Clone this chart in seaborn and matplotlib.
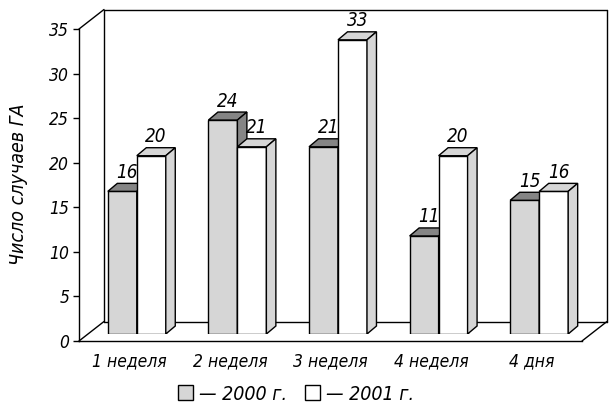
import matplotlib
matplotlib.use("Agg")
import matplotlib.pyplot as plt
from matplotlib.patches import Polygon, Patch
from matplotlib import font_manager
import seaborn as sns
import pandas as pd

# data
categories = ["1 неделя", "2 неделя", "3 неделя", "4 неделя", "4 дня"]
cases_2000 = [16, 24, 21, 11, 15]
cases_2001 = [20, 21, 33, 20, 16]
years = ["2000", "2001"]
legend_labels = ["— 2000 г.", "— 2001 г."]
y_ticks = [0, 5, 10, 15, 20, 25, 30, 35]

df = pd.DataFrame({
    "period": categories * 2,
    "cases": cases_2000 + cases_2001,
    "year": [years[0]] * 5 + [years[1]] * 5,
})

sns.set_theme(style="white")

# look for a narrow font, like the reference
fonts = font_manager.fontManager.ttflist
narrow = [f for f in fonts if "LiberationSansNarrow" in f.fname.replace("-", "").replace(" ", "")]
cond = [f for f in fonts if "DejaVuSansCondensed" in f.fname]
fam, stretch, fs = "DejaVu Sans", "normal", 11.5
if narrow:
    fam, stretch, fs = narrow[0].name, "normal", 13
elif cond:
    fam, stretch, fs = "DejaVu Sans", "condensed", 12.5
print("font:", fam, stretch)
plt.rcParams["font.family"] = [fam, "DejaVu Sans"]
plt.rcParams["font.stretch"] = stretch
plt.rcParams["font.style"] = "italic"
plt.rcParams["text.color"] = "black"
plt.rcParams["xtick.color"] = "black"
plt.rcParams["ytick.color"] = "black"

W, H = 609, 403
fig = plt.figure(figsize=(W / 100, H / 100), dpi=100)

# front axis: x 79..582 px, y 341..29 px
x0, x1, y0, y1 = 79, 582, 341, 29
xmin, xmax = -0.5, 4.5
ax = fig.add_axes([x0 / W, (H - y0) / H, (x1 - x0) / W, (y0 - y1) / H])
ax.set_xlim(xmin, xmax)
ax.set_ylim(0, 35)
ax.patch.set_alpha(0)

px_x = (x1 - x0) / (xmax - xmin)   # pixels per x unit
px_y = (y0 - y1) / 35.0            # pixels per y unit

# bars axes, shifted a bit into depth
sx, sy = 7.5, 7
axb = fig.add_axes([(x0 + sx) / W, (H - y0 + sy) / H, (x1 - x0) / W, (y0 - y1) / H])
axb.patch.set_alpha(0)

sns.barplot(data=df, x="period", y="cases", hue="year", ax=axb,
            palette={"2000": "#d6d6d6", "2001": "#ffffff"}, saturation=1,
            edgecolor="black", linewidth=1, width=0.576, legend=False)
axb.set_xlim(xmin, xmax)
axb.set_ylim(0, 35)
axb.axis("off")

ddx, ddy = 9.5 / px_x, 8 / px_y
tops = {"2000": "#858585", "2001": "#d6d6d6"}
sides = {"2000": "#858585", "2001": "#d6d6d6"}
for cont, yr in zip(axb.containers, years):
    z = 1 if yr == "2000" else 3
    for p in cont:
        p.set_zorder(z)
        x, w, h = p.get_x(), p.get_width(), p.get_height()
        top = [(x, h), (x + w, h), (x + w + ddx, h + ddy), (x + ddx, h + ddy)]
        side = [(x + w, 0), (x + w, h), (x + w + ddx, h + ddy), (x + w + ddx, ddy)]
        axb.add_patch(Polygon(top, closed=True, facecolor=tops[yr], edgecolor="black",
                              linewidth=1, zorder=z))
        axb.add_patch(Polygon(side, closed=True, facecolor=sides[yr], edgecolor="black",
                              linewidth=1, zorder=z))
        axb.text(x + w / 2 + ddx / 2, h + ddy + 1.5 / px_y, f"{h:.0f}",
                 ha="center", va="bottom", fontsize=fs + 1, zorder=5)

# walls
dx, dy = 25 / px_x, 19.5 / px_y
lk = dict(color="black", linewidth=1, clip_on=False, zorder=0.5)
ax.plot([xmin, xmin + dx], [0, dy], **lk)
ax.plot([xmin, xmin + dx], [35, 35 + dy], **lk)
ax.plot([xmin + dx, xmin + dx], [dy, 35 + dy], **lk)
ax.plot([xmin + dx, xmax + dx], [35 + dy, 35 + dy], **lk)
ax.plot([xmax + dx, xmax + dx], [dy, 35 + dy], **lk)
ax.plot([xmin + dx, xmax + dx], [dy, dy], **lk)
ax.plot([xmax, xmax + dx], [0, dy], **lk)

for s in ["top", "right"]:
    ax.spines[s].set_visible(False)
for s in ["left", "bottom"]:
    ax.spines[s].set_linewidth(1)
    ax.spines[s].set_color("black")

ax.set_yticks(y_ticks)
ax.set_yticklabels([str(t) for t in y_ticks], fontsize=fs)
ax.set_xticks(range(len(categories)))
ax.set_xticklabels(categories, fontsize=fs)
ax.set_xticks([i - 0.5 for i in range(len(categories) + 1)], minor=True)
ax.tick_params(axis="x", which="major", length=0, pad=8)
ax.tick_params(axis="x", which="minor", length=5, width=1, direction="out", color="black")
ax.tick_params(axis="y", length=4, width=1, direction="out", color="black", pad=3, left=True)

fig.text(19 / W, 1 - 184 / H, "Число случаев ГА", rotation=90, ha="center", va="center",
         fontsize=fs + 1.5)

handles = [Patch(facecolor="#d6d6d6", edgecolor="black", linewidth=1),
           Patch(facecolor="#ffffff", edgecolor="black", linewidth=1)]
fig.legend(handles, legend_labels, loc="center", bbox_to_anchor=(296 / W, 1 - 394 / H),
           ncol=2, frameon=False, fontsize=fs + 1.5, handlelength=0.8, handleheight=0.8,
           handletextpad=0.3, columnspacing=0.9, borderpad=0)

fig.savefig("out.png", dpi=100)
